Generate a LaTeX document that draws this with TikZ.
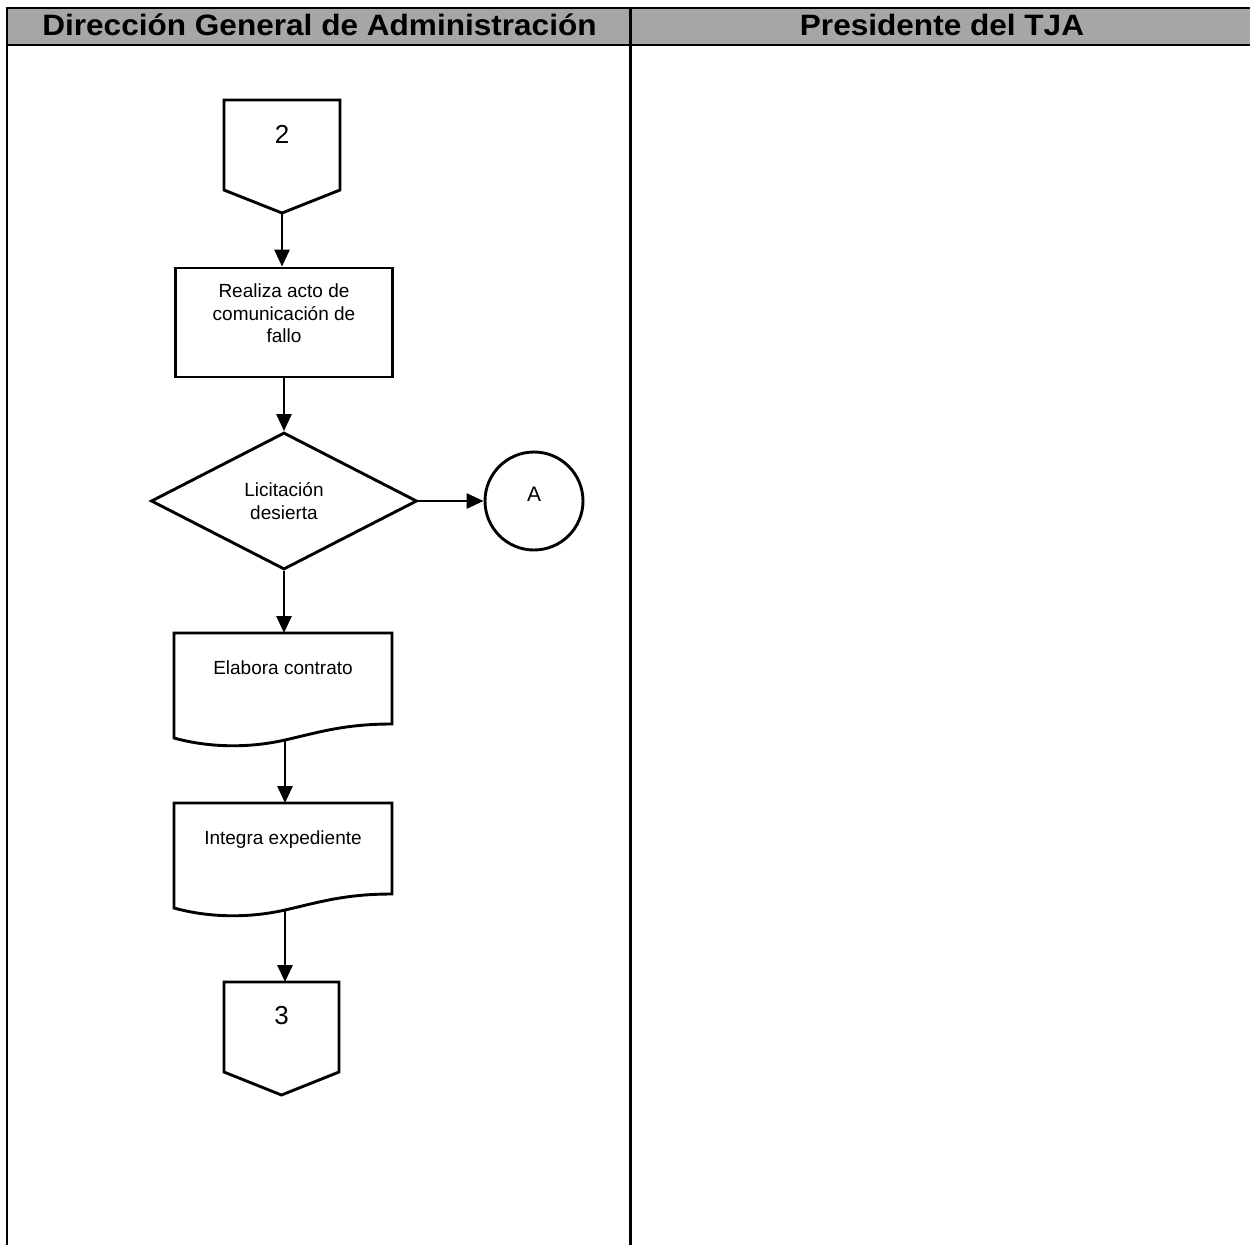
\documentclass[tikz,border=0pt]{standalone}
\usepackage{fontspec}
\setmainfont{Liberation Sans}
\usetikzlibrary{shapes.geometric,arrows.meta}
\definecolor{headgray}{HTML}{A6A6A6}
\begin{document}
\begin{tikzpicture}[x=1pt,y=-1pt,
  frame/.style={line width=2.7pt},
  shapeline/.style={line width=2.9pt, line join=miter},
  flow/.style={line width=2.9pt, -{Triangle[length=17pt,width=15pt]}},
  body/.style={font=\fontsize{19}{22.5}\selectfont, align=center},
  numtext/.style={font=\fontsize{26}{30}\selectfont},
  headtext/.style={font=\fontsize{29.5}{34}\selectfont\bfseries, anchor=base},
]
\useasboundingbox (0,0) rectangle (1250,1245);

% swimlane header and lane borders
\fill[headgray] (7,8) rectangle (1250,45);
\draw[frame] (7,1245) -- (7,8) -- (1250,8);
\draw[frame] (7,45) -- (1250,45);
\draw[frame] (630.5,8) -- (630.5,1245);
\node[headtext] (h1) at (319.5,35.5) {\scalebox{1.07}[1]{Dirección General de Administración}};
\node[headtext] (h2) at (942,35.5) {\scalebox{1.07}[1]{Presidente del TJA}};

% off-page connector 2
\node[numtext, anchor=north, inner xsep=0pt, inner ysep=25pt, minimum width=116pt] (c2) at (282,100) {2};
\draw[shapeline, shift={(c2.north)}] (-58,0) -- (58,0) -- (58,90) -- (0,113) coordinate (c2p) -- (-58,90) -- cycle;

% process box
\node[body, draw, shapeline, minimum width=217pt, minimum height=109pt, inner sep=0pt, text depth=18pt] (r1) at (284,322.5) {Realiza acto de\\comunicación de\\fallo};

% decision
\node[body, draw, shapeline, diamond, minimum width=266pt, minimum height=137pt, inner sep=0pt] (q1) at (284,501) {Licitación\\desierta};

% on-page connector A
\node[draw, shapeline, circle, minimum size=98pt, inner sep=0pt, font=\fontsize{21}{24}\selectfont, text depth=13pt] (ca) at (534,501) {A};

% documents
\node[body, anchor=north, inner xsep=0pt, inner ysep=28pt, minimum width=218pt] (d1) at (283,633) {Elabora contrato};
\draw[shapeline, shift={(d1.north)}] (-109,0) -- (109,0) -- (109,91)
  .. controls (62,91) and (37,99) .. (2,107) coordinate (d1b)
  .. controls (-33,115) and (-73,115) .. (-109,105) -- cycle;

\node[body, anchor=north, inner xsep=0pt, inner ysep=28pt, minimum width=218pt] (d2) at (283,803) {Integra expediente};
\draw[shapeline, shift={(d2.north)}] (-109,0) -- (109,0) -- (109,91)
  .. controls (62,91) and (37,99) .. (2,107) coordinate (d2b)
  .. controls (-33,115) and (-73,115) .. (-109,105) -- cycle;

% off-page connector 3
\node[numtext, anchor=north, inner xsep=0pt, inner ysep=24pt, minimum width=115pt] (c3) at (281.5,982) {3};
\draw[shapeline, shift={(c3.north)}] (-57.5,0) -- (57.5,0) -- (57.5,90) -- (0,113) -- (-57.5,90) -- cycle;

% flow
\draw[flow] (c2p) -- (c2p |- r1.north);
\draw[flow] (r1.south) -- (r1.south |- q1.north);
\draw[flow] (q1.east) -- (ca.west);
\draw[flow] (q1.south) -- (q1.south |- d1.north);
\draw[flow] (d1b) -- (d1b |- d2.north);
\draw[flow] (d2b) -- (d2b |- c3.north);
\end{tikzpicture}
\end{document}
